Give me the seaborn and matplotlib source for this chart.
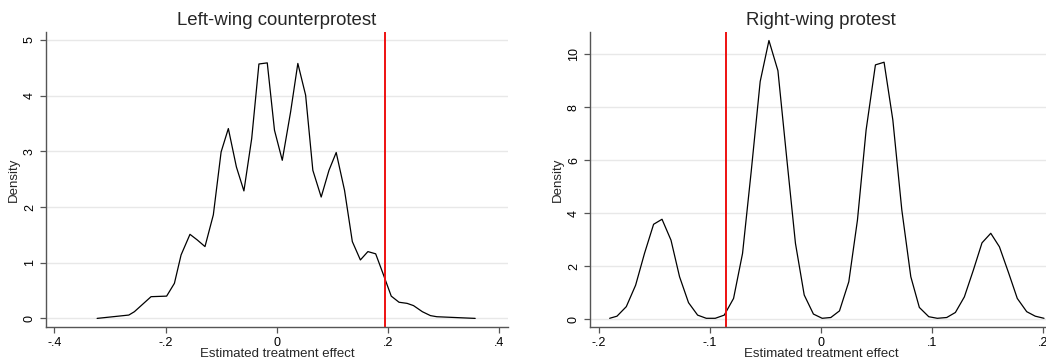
import matplotlib
matplotlib.use("Agg")
import matplotlib.pyplot as plt
import seaborn as sns
import pandas as pd

# ---- Data ----
left_x = [-0.323, -0.266, -0.256, -0.226, -0.198, -0.184, -0.172, -0.156, -0.143, -0.129,
          -0.114, -0.100, -0.087, -0.0725, -0.059, -0.045, -0.032, -0.017, -0.004, 0.010,
          0.025, 0.038, 0.052, 0.065, 0.080, 0.094, 0.107, 0.122, 0.136, 0.1505,
          0.164, 0.178, 0.191, 0.206, 0.220, 0.2345, 0.246, 0.262, 0.2765, 0.288, 0.357]
left_y = [0.00, 0.06, 0.12, 0.39, 0.40, 0.63, 1.14, 1.51, 1.41, 1.29,
          1.86, 2.99, 3.41, 2.72, 2.29, 3.23, 4.57, 4.59, 3.38, 2.84,
          3.71, 4.58, 4.01, 2.66, 2.18, 2.66, 2.98, 2.30, 1.38, 1.05,
          1.20, 1.16, 0.81, 0.40, 0.29, 0.27, 0.23, 0.12, 0.05, 0.03, 0.00]
left_ref = 0.194

right_x = [-0.1904, -0.1838, -0.1754, -0.167, -0.159, -0.1508, -0.1432, -0.1351, -0.1274, -0.1193,
           -0.1111, -0.1033, -0.0952, -0.0871, -0.0787, -0.0706, -0.0628, -0.0547, -0.0468, -0.0387,
           -0.0306, -0.0229, -0.015, -0.0067, 0.0012, 0.009, 0.0168, 0.0252, 0.033, 0.0408,
           0.0492, 0.057, 0.0649, 0.073, 0.0811, 0.0888, 0.0973, 0.1050, 0.1135, 0.1213,
           0.1294, 0.1375, 0.1453, 0.1532, 0.161, 0.1694, 0.1771, 0.1856, 0.1933, 0.2012]
right_y = [0.03, 0.11, 0.47, 1.28, 2.48, 3.58, 3.77, 2.98, 1.60, 0.62,
           0.15, 0.03, 0.03, 0.15, 0.78, 2.48, 5.57, 8.97, 10.52, 9.38,
           6.01, 2.86, 0.91, 0.19, 0.03, 0.06, 0.31, 1.41, 3.74, 7.14,
           9.60, 9.70, 7.52, 4.12, 1.60, 0.44, 0.09, 0.03, 0.06, 0.25,
           0.84, 1.85, 2.88, 3.24, 2.73, 1.73, 0.78, 0.28, 0.11, 0.03]
right_ref = -0.0853

titles = ["Left-wing counterprotest", "Right-wing protest"]
xlabel = "Estimated treatment effect"
ylabel = "Density"
left_xticks = [-0.4, -0.2, 0, 0.2, 0.4]
left_xticklabels = ["-.4", "-.2", "0", ".2", ".4"]
left_yticks = [0, 1, 2, 3, 4, 5]
right_xticks = [-0.2, -0.1, 0, 0.1, 0.2]
right_xticklabels = ["-.2", "-.1", "0", ".1", ".2"]
right_yticks = [0, 2, 4, 6, 8, 10]

# ---- Style ----
sns.set_style("white")
plt.rcParams["font.family"] = ["Liberation Sans", "DejaVu Sans"]

fig = plt.figure(figsize=(10.46, 3.63), dpi=100)
ax1 = fig.add_axes([45.7 / 1046, 1 - 327.3 / 363, (508 - 45.7) / 1046, (327.3 - 31.7) / 363])
ax2 = fig.add_axes([589.7 / 1046, 1 - 327.3 / 363, (1052 - 589.7) / 1046, (327.3 - 32.3) / 363])

spine_col = "#555555"
grid_col = "#e8e8e8"

def style(ax, title, xt, xtl, yt, xlim, ylim):
    ax.set_xlim(*xlim)
    ax.set_ylim(*ylim)
    ax.set_xticks(xt)
    ax.set_xticklabels(xtl)
    ax.set_yticks(yt)
    ax.set_yticklabels([str(v) for v in yt], rotation=90, va="center")
    for s in ["top", "right"]:
        ax.spines[s].set_visible(False)
    for s in ["left", "bottom"]:
        ax.spines[s].set_color(spine_col)
        ax.spines[s].set_linewidth(1.0)
    ax.tick_params(axis="both", which="major", direction="out", length=4, width=0.9,
                   color=spine_col, labelsize=9, labelcolor="black", pad=3,
                   bottom=True, left=True)
    ax.yaxis.grid(True, color=grid_col, linewidth=1.0)
    ax.xaxis.grid(False)
    ax.set_axisbelow(True)
    ax.set_title(title, fontsize=13.4, pad=5)
    ax.set_xlabel(xlabel, fontsize=9.5, labelpad=-1)
    ax.set_ylabel(ylabel, fontsize=9.5, labelpad=3)

df1 = pd.DataFrame({"x": left_x, "y": left_y})
df2 = pd.DataFrame({"x": right_x, "y": right_y})

sns.lineplot(data=df1, x="x", y="y", ax=ax1, color="black", linewidth=0.9, sort=False)
ax1.axvline(left_ref, color="#ee1111", linewidth=1.4)
style(ax1, titles[0], left_xticks, left_xticklabels, left_yticks, (-0.4155, 0.416), (-0.16, 5.15))

sns.lineplot(data=df2, x="x", y="y", ax=ax2, color="black", linewidth=0.9, sort=False)
ax2.axvline(right_ref, color="#ee1111", linewidth=1.4)
style(ax2, titles[1], right_xticks, right_xticklabels, right_yticks, (-0.2084, 0.2084), (-0.31, 10.83))

fig.savefig("out.png", dpi=100, facecolor="white")
